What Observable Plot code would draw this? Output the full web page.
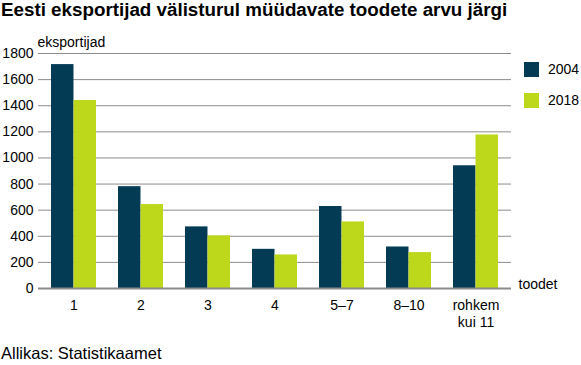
<!DOCTYPE html>
<html>
<head>
<meta charset="utf-8">
<script src="https://cdn.jsdelivr.net/npm/d3@7"></script>
<script src="https://cdn.jsdelivr.net/npm/@observablehq/plot@0.6"></script>
<style>
  html, body { margin: 0; padding: 0; background: #fff; }
  #wrap { position: relative; width: 581px; height: 365px; overflow: hidden; font-family: "Liberation Sans", Arial, sans-serif; color: #000; }
  #title { position: absolute; left: 1px; top: 0; font-size: 18.8px; font-weight: bold; line-height: 20px; white-space: nowrap; }
  #chart { position: absolute; left: 0; top: 26px; }
  #legend { position: absolute; left: 524px; top: 61px; }
  #caption { position: absolute; left: 1px; top: 343.5px; font-size: 16.5px; line-height: 18px; white-space: nowrap; }
  .lg-swatches { font: 14px "Liberation Sans", Arial, sans-serif !important; color: #000 !important; margin: 0 !important; min-height: 0 !important; }
  .lg-swatch { padding-bottom: 15px !important; line-height: 16px !important; }
  .lg-swatch svg { margin-right: 9px !important; }
</style>
</head>
<body>
<div id="wrap">
  <div id="title"></div>
  <div id="chart"></div>
  <div id="legend"></div>
  <div id="caption"></div>
</div>
<script>
const titleText = "Eesti eksportijad välisturul müüdavate toodete arvu järgi";
const captionText = "Allikas: Statistikaamet";
const yLabel = "eksportijad";
const xLabel = "toodet";
const categories = ["1", "2", "3", "4", "5–7", "8–10", "rohkem\nkui 11"];
const years = ["2004", "2018"];
const values2004 = [1715, 780, 472, 300, 628, 318, 940];
const values2018 = [1440, 643, 403, 257, 510, 275, 1176];
const yTicks = [0, 200, 400, 600, 800, 1000, 1200, 1400, 1600, 1800];
const colors = ["#033a54", "#bdd71b"];

const data = [];
categories.forEach((c, i) => {
  data.push({cat: c, year: years[0], value: values2004[i]});
  data.push({cat: c, year: years[1], value: values2018[i]});
});
const d2004 = data.filter(d => d.year === years[0]);
const d2018 = data.filter(d => d.year === years[1]);

const W = 581, H = 310;
const mL = 38, mR = 70, mT = 27, mB = 48;
const step = (W - mL - mR) / categories.length;
const half = step * (2 / 3) / 2;

const plot = Plot.plot({
  width: W,
  height: H,
  marginLeft: mL,
  marginRight: mR,
  marginTop: mT,
  marginBottom: mB,
  style: {fontFamily: '"Liberation Sans", Arial, sans-serif', fontSize: "14px", background: "transparent", color: "#000", overflow: "visible"},
  x: {type: "band", domain: categories, paddingInner: 1 / 3, paddingOuter: 1 / 6, align: 0.5, label: null},
  y: {domain: [0, 1800], label: null},
  color: {domain: years, range: colors},
  marks: [
    Plot.ruleY(yTicks, {y: d => d, stroke: "#8c8c8c", strokeWidth: 1}),
    Plot.barY(d2004, {x: "cat", y: "value", fill: "year", insetRight: half}),
    Plot.barY(d2018, {x: "cat", y: "value", fill: "year", insetLeft: half}),
    Plot.ruleY(yTicks.slice(0, 1), {y: d => d, stroke: "#8a8a8a", strokeWidth: 2}),
    Plot.axisY({ticks: yTicks, tickFormat: d => String(d), tickSize: 0, tickPadding: 5, label: null, fontSize: 14, fill: "#000"}),
    Plot.axisX({tickSize: 0, tickPadding: 10, label: null, fontSize: 14, lineHeight: 1.2, fill: "#000"}),
    Plot.text([yLabel], {text: d => d, frameAnchor: "top-left", textAnchor: "start", lineAnchor: "bottom", dx: -1, dy: -7, fontSize: 14, fill: "#000"}),
    Plot.text([xLabel], {text: d => d, frameAnchor: "bottom-right", textAnchor: "start", lineAnchor: "bottom", dx: 7, dy: 0, fontSize: 14, fill: "#000"})
  ]
});
document.getElementById("chart").appendChild(plot);
document.getElementById("title").textContent = titleText;
document.getElementById("caption").textContent = captionText;
const leg = plot.legend("color", {legend: "swatches", swatchSize: 15, columns: 1, className: "lg"});
document.getElementById("legend").appendChild(leg);
</script>
</body>
</html>
